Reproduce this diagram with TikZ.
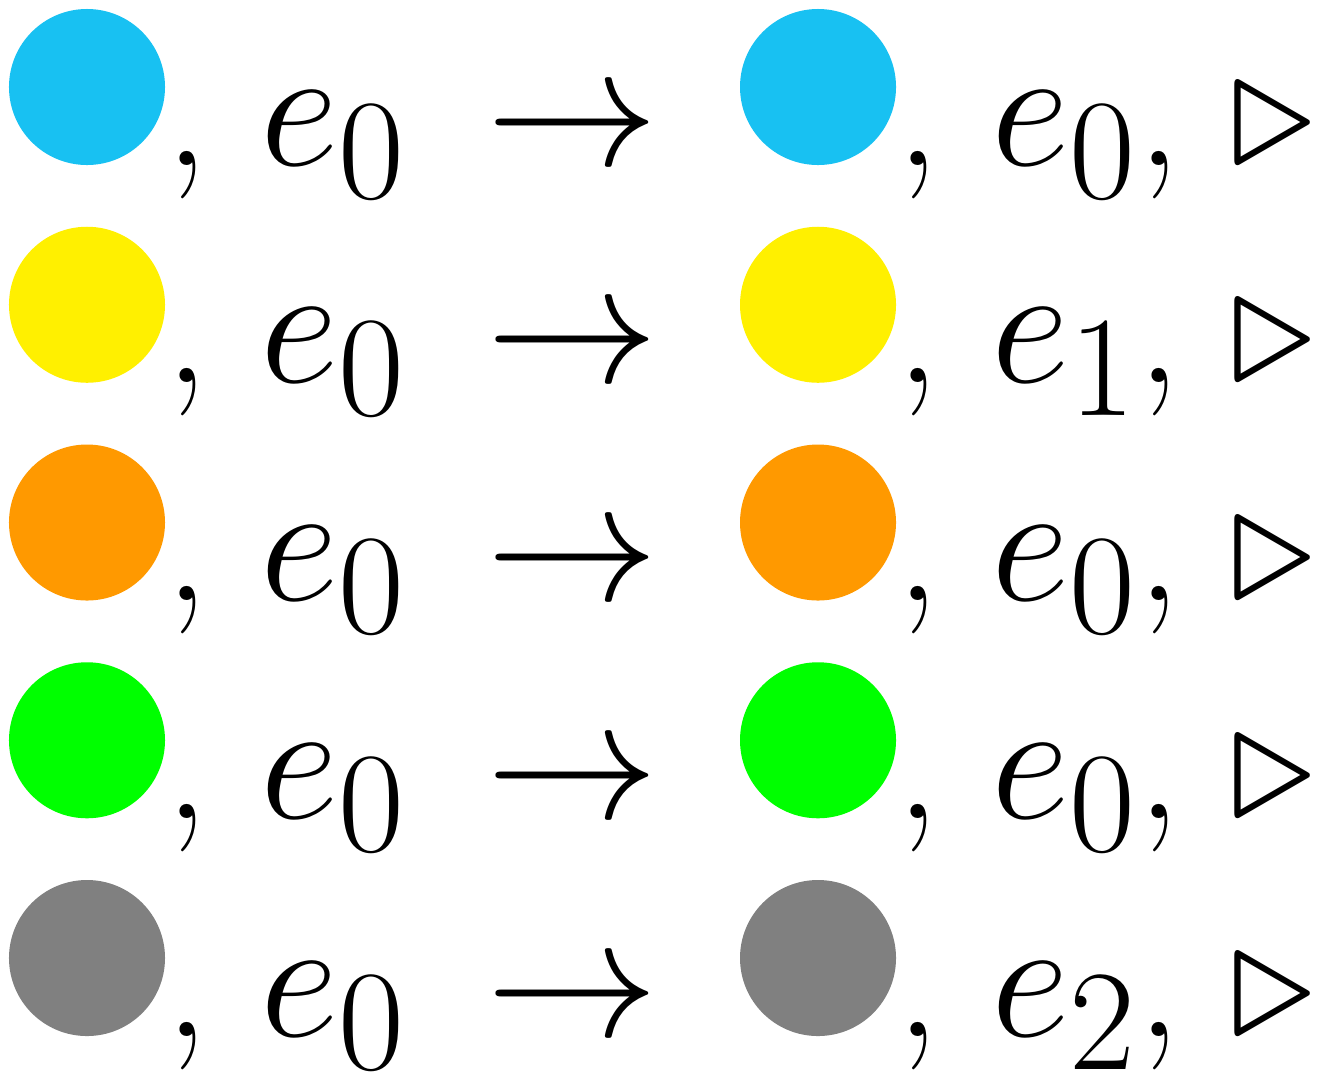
\documentclass[tikz,border=0pt]{standalone}
\definecolor{cA}{HTML}{18C1F2}
\definecolor{cB}{HTML}{FFF000}
\definecolor{cC}{HTML}{FF9900}
\definecolor{cD}{HTML}{00FF00}
\definecolor{cE}{HTML}{808080}
\begin{document}
\begin{tikzpicture}[x=0.14465pt,y=-0.14465pt,
  g/.style={inner sep=0pt,outer sep=0pt,font=\Huge},
  dot/.style={circle,inner sep=0pt,outer sep=0pt,minimum size=22.57pt}]
\useasboundingbox (0,0) rectangle (1328,1072);
\foreach \i/\col/\k in {0/cA/0,1/cB/1,2/cC/0,3/cD/0,4/cE/2}{
  \pgfmathsetmacro\by{165+217.75*\i}
  \node[dot,fill=\col] (l\i) at (87,\by-78) {};
  \node[g,anchor=base] (ca\i) at (187,\by) {,};
  \node[g,anchor=base west] (ea\i) at (260,\by) {$e_0$};
  \node[g,anchor=base] (ar\i) at (572,\by) {$\rightarrow$};
  \node[dot,fill=\col] (r\i) at (818,\by-78) {};
  \node[g,anchor=base] (cb\i) at (918,\by) {,};
  \node[g,anchor=base west] (eb\i) at (991,\by) {$e_{\k}$};
  \node[g,anchor=base] (cc\i) at (1159,\by) {,};
  \node[g,anchor=base] (tr\i) at (1273,\by) {$\triangleright$};
}
\end{tikzpicture}
\end{document}
